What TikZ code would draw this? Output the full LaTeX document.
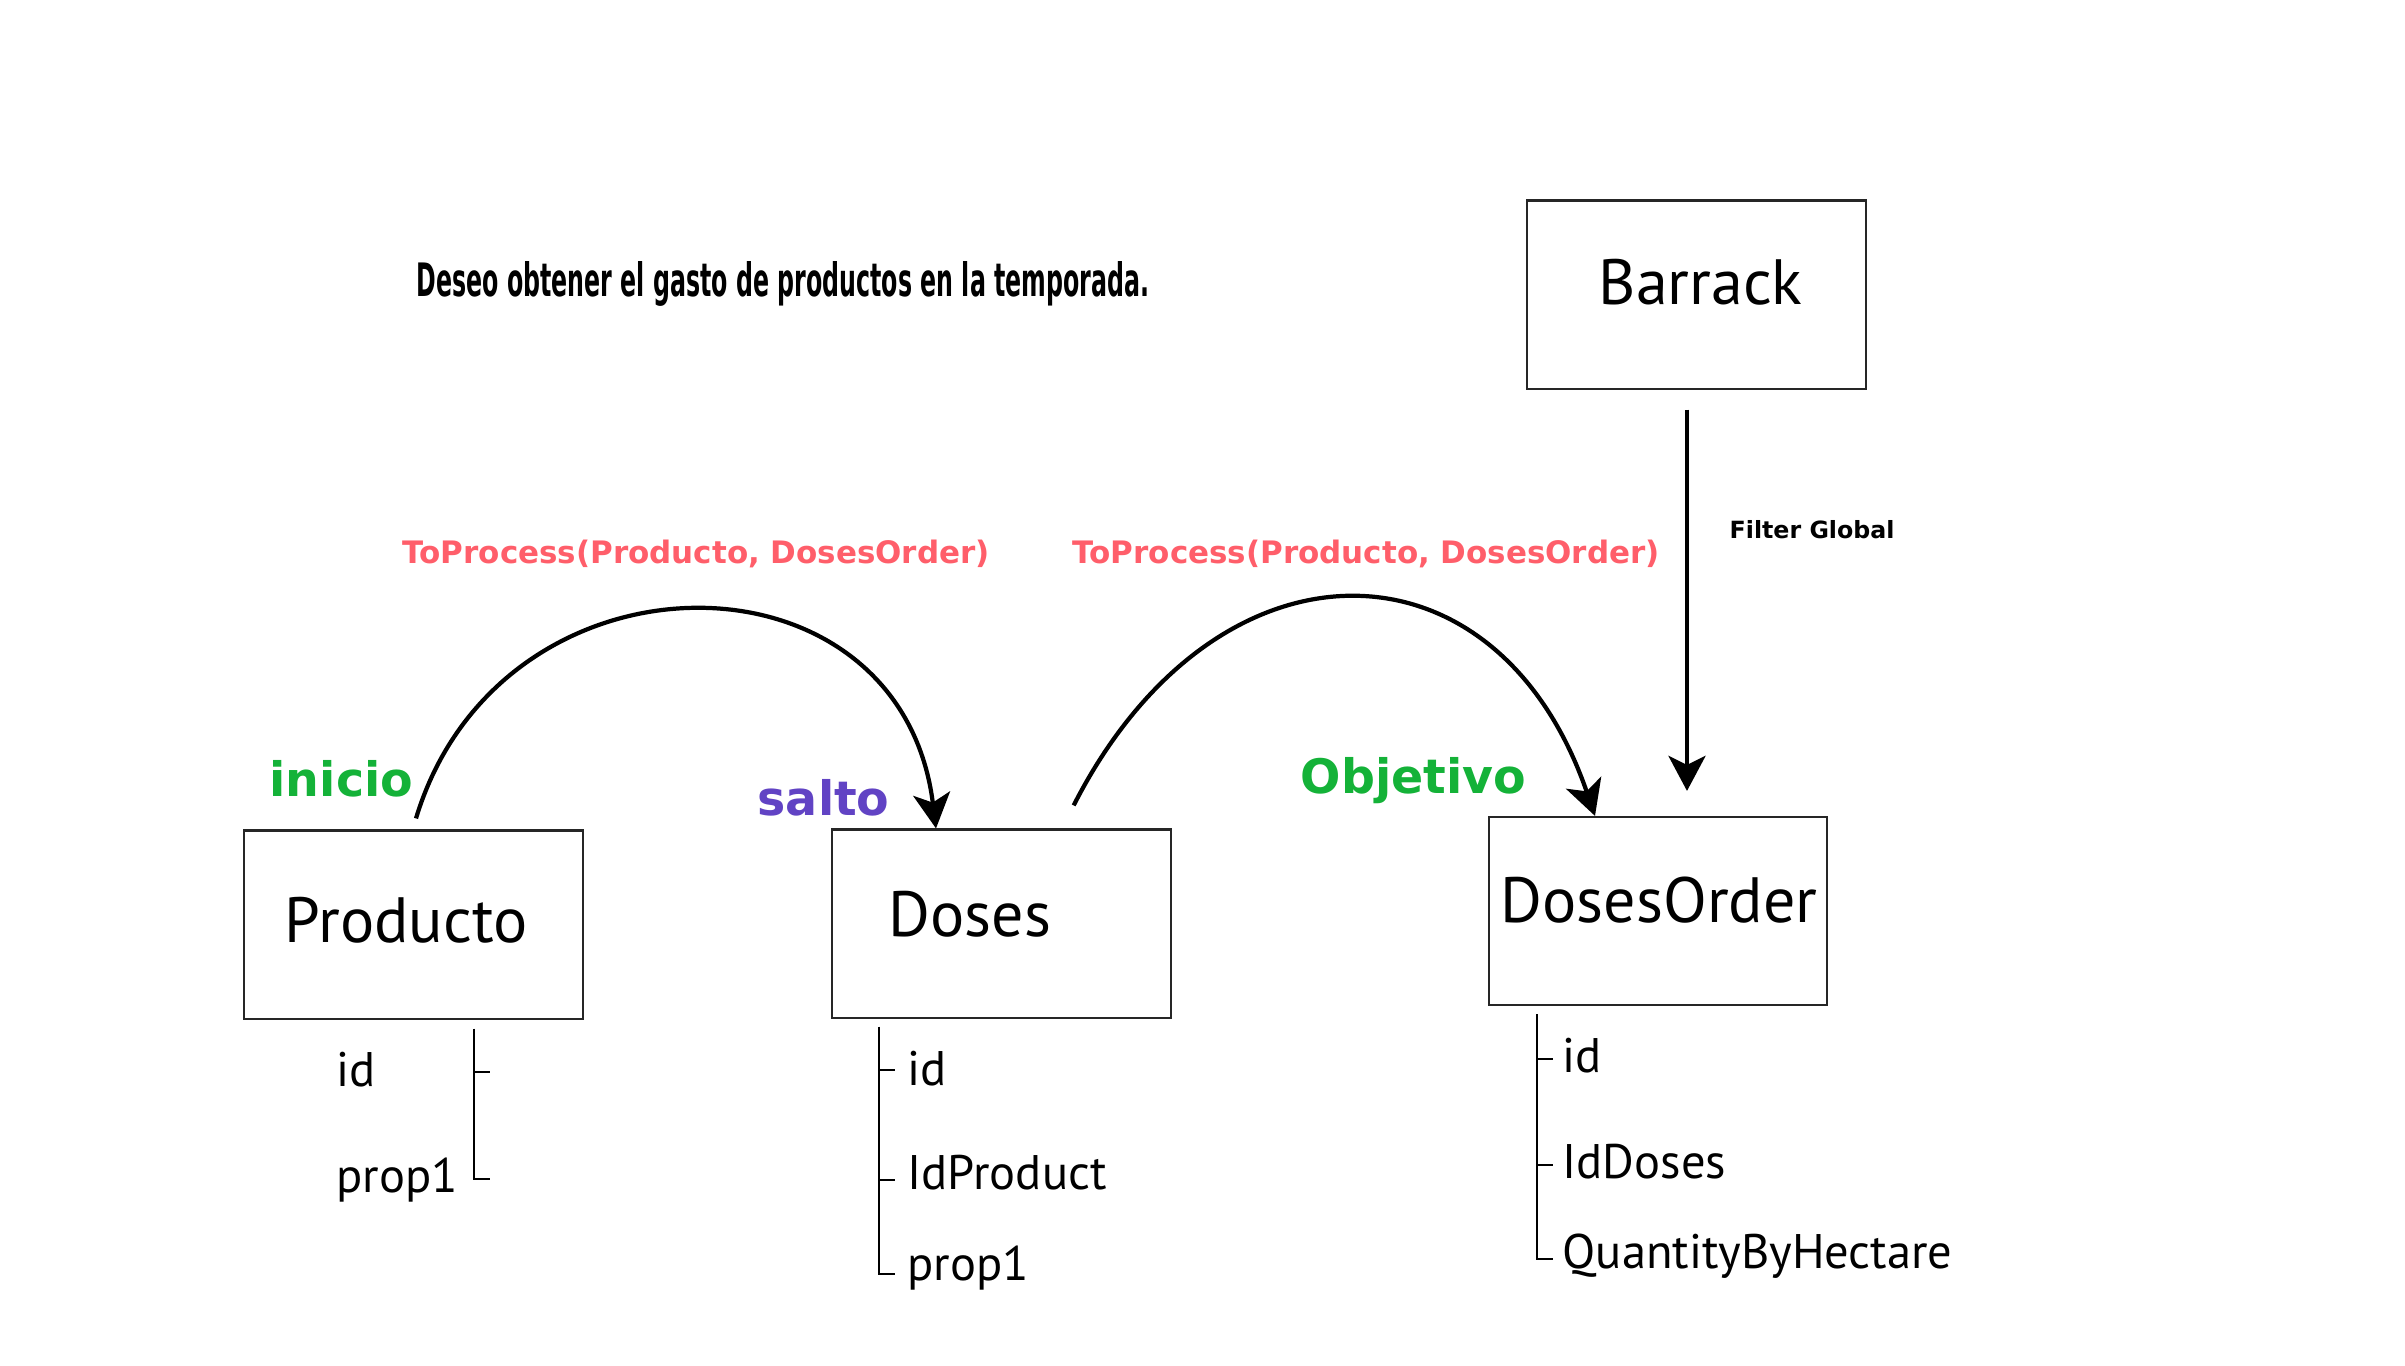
\documentclass[tikz,border=0pt]{standalone}
\usepackage{fontspec}
\usepackage{graphicx}
\usetikzlibrary{arrows.meta}
\newfontfamily\boxfont{PT Sans}
\newfontfamily\dvfont{DejaVu Sans}
\definecolor{redlbl}{RGB}{255,94,106}
\definecolor{greenlbl}{RGB}{20,178,56}
\definecolor{purplelbl}{RGB}{97,67,196}
\tikzset{
  entity/.style={draw=black!85, line width=0.6pt, rectangle, minimum width=3.38cm, minimum height=1.88cm, inner sep=0pt},
  entitytext/.style={anchor=base west, inner sep=0pt, font=\boxfont\fontsize{18.2pt}{20pt}\selectfont},
  fieldtext/.style={anchor=base west, inner sep=0pt, font=\boxfont\fontsize{13.8pt}{16pt}\selectfont},
  reltext/.style={anchor=base west, inner sep=0pt, text=redlbl, font=\dvfont\bfseries\fontsize{8.8pt}{10pt}\selectfont},
  rolelbl/.style={anchor=base west, inner sep=0pt, font=\dvfont\bfseries\fontsize{13.5pt}{15pt}\selectfont},
  flow/.style={line width=1.2pt, -{Stealth[length=0.35cm, width=0.37cm, inset=0.09cm]}},
  tree/.style={line width=0.6pt, black},
}
\begin{document}
\begin{tikzpicture}[x=0.01cm, y=-0.01cm]
\useasboundingbox (0,0) rectangle (2405,1365);
\fill[white] (0,0) rectangle (2405,1365);

% title
\node[anchor=base west, inner sep=0pt, font=\dvfont\bfseries\fontsize{13.1pt}{15pt}\selectfont] (title) at (416,296)
  {\scalebox{0.515}[1]{Deseo obtener el gasto de productos en la temporada.}};

% entity boxes
\node[entity] (barrack) at (1696.5,294.5) {};
\node[entity] (prod) at (413.5,924.5) {};
\node[entity] (doses) at (1001.5,923.5) {};
\node[entity] (dorder) at (1658,911) {};

\node[entitytext] (barrackt) at (1598,304) {Barrack};
\node[entitytext] (prodt) at (284,942) {Producto};
\node[entitytext] (dosest) at (888,936) {Doses};
\node[entitytext] (dordert) at (1500,922) {DosesOrder};

% role labels
\node[rolelbl, text=greenlbl] (inicio) at (269,796) {inicio};
\node[rolelbl, text=purplelbl] (salto) at (757,815) {salto};
\node[rolelbl, text=greenlbl] (objetivo) at (1300,793) {Objetivo};

% relation labels
\node[reltext] (rel1) at (402,563) {ToProcess(Producto, DosesOrder)};
\node[reltext] (rel2) at (1072,563) {ToProcess(Producto, DosesOrder)};
\node[anchor=base west, inner sep=0pt, font=\dvfont\bfseries\fontsize{6.74pt}{8pt}\selectfont] (filter) at (1729,538) {Filter Global};

% connectors
\draw[flow] ([shift={(2.5,-11)}]prod.north) .. controls (500,540) and (900,540) .. ([shift={(-65.5,0)}]doses.north);
\draw[flow] ([shift={(-98,-23)}]doses.north east) .. controls (1215,528) and (1496,528) .. ([shift={(-63,0)}]dorder.north);
\draw[flow] ([shift={(-9.5,20)}]barrack.south) -- ([shift={(29,-25)}]dorder.north);

% Producto fields
\draw[tree] ([shift={(60.5,9)}]prod.south) -- ++(0,150) -- ++(16,0);
\draw[tree] (474,1072) -- ++(16,0);
\node[fieldtext] (p1) at (336,1086) {id};
\node[fieldtext] (p2) at (336,1192) {prop1};

% Doses fields
\draw[tree] ([shift={(-122.5,8)}]doses.south) -- ++(0,247) -- ++(16,0);
\draw[tree] (879,1070) -- ++(16,0);
\draw[tree] (879,1180) -- ++(16,0);
\node[fieldtext] (d1) at (907,1085) {id};
\node[fieldtext] (d2) at (907,1189) {IdProduct};
\node[fieldtext] (d3) at (907,1280) {prop1};

% DosesOrder fields
\draw[tree] ([shift={(-121,8)}]dorder.south) -- ++(0,245) -- ++(16,0);
\draw[tree] (1537,1059) -- ++(16,0);
\draw[tree] (1537,1165) -- ++(16,0);
\node[fieldtext] (o1) at (1562,1072) {id};
\node[fieldtext] (o2) at (1562,1178) {IdDoses};
\node[fieldtext] (o3) at (1562,1268) {QuantityByHectare};
\end{tikzpicture}
\end{document}
